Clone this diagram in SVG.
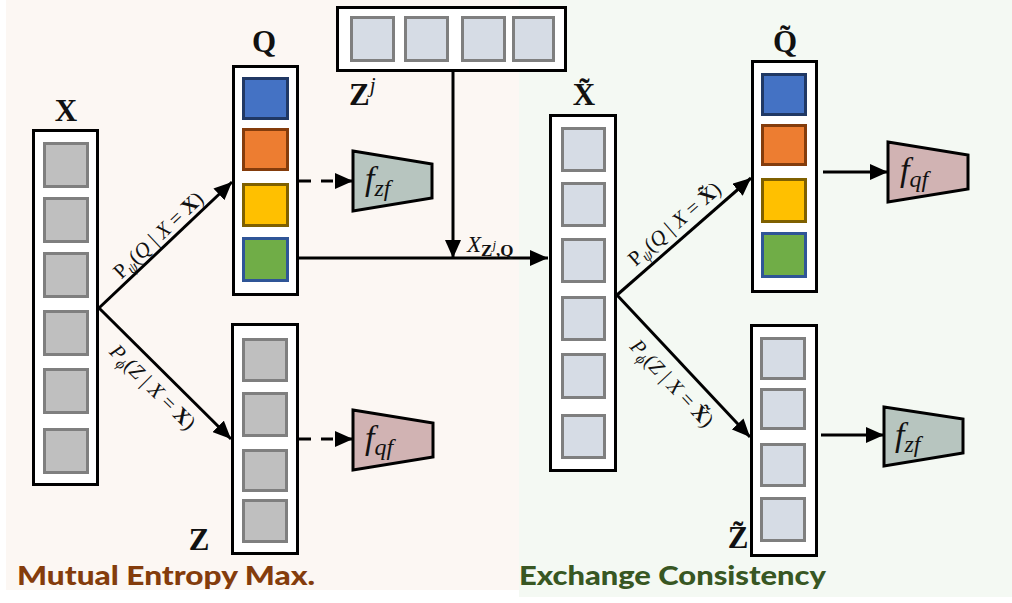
<svg xmlns="http://www.w3.org/2000/svg" width="1012" height="603" viewBox="0 0 1012 603">
  <defs>
    <marker id="head" markerUnits="userSpaceOnUse" markerWidth="18" markerHeight="16" refX="18" refY="8" orient="auto">
      <path d="M0,0 L18,8 L0,16 z" fill="#000"/>
    </marker>
    <style>
      .box { fill: #ffffff; stroke: #000; stroke-width: 3; }
      .gray { fill: #bfbfbf; stroke: #7f7f7f; stroke-width: 3; }
      .light { fill: #d6dce5; stroke: #7f7f7f; stroke-width: 3; }
      .blue { fill: #4472c4; stroke: #203864; stroke-width: 3; }
      .orange { fill: #ed7d31; stroke: #843c0c; stroke-width: 3; }
      .yellow { fill: #ffc000; stroke: #7f6000; stroke-width: 3; }
      .green { fill: #70ad47; stroke: #2f5597; stroke-width: 3; }
      .fz { fill: #b7c5bf; stroke: #000; stroke-width: 3; }
      .fq { fill: #d1b3b3; stroke: #000; stroke-width: 3; }
      .edge { fill: none; stroke: #000; stroke-width: 3; marker-end: url(#head); }
      .dash { stroke-dasharray: 12 10; }
      .name { font-family: "Liberation Serif", "DejaVu Serif", serif; font-weight: bold; font-size: 31px; text-anchor: middle; fill: #111; }
      .fn { font-family: "Liberation Serif", "DejaVu Serif", serif; font-style: italic; fill: #111; }
      .prob { font-family: "Liberation Serif", "DejaVu Serif", serif; font-size: 21px; text-anchor: middle; fill: #111; }
      .title { font-family: Lato, "Open Sans", "Liberation Sans", sans-serif; font-weight: 900; font-size: 27px; }
    </style>
  </defs>

  <!-- two shaded stages -->
  <rect x="6" y="0" width="513" height="590" fill="#fcf7f3"/>
  <rect x="519" y="0" width="493" height="597" fill="#f4f9f3"/>

  <!-- connectors -->
  <g id="connectors">
    <line class="edge" x1="99" y1="308" x2="232" y2="182"/>
    <line class="edge" x1="99" y1="308" x2="231" y2="439"/>
    <line class="edge dash" x1="299" y1="181" x2="353" y2="181"/>
    <line class="edge dash" x1="299" y1="439" x2="353" y2="439"/>
    <line class="edge" x1="453" y1="72" x2="453" y2="258"/>
    <line class="edge" x1="299" y1="258" x2="548" y2="258"/>
    <line class="edge" x1="617" y1="295" x2="751" y2="178"/>
    <line class="edge" x1="617" y1="295" x2="750" y2="437"/>
    <line class="edge" x1="823" y1="172" x2="888" y2="172"/>
    <line class="edge" x1="821" y1="435" x2="884" y2="435"/>

    <text class="prob" transform="translate(163,240) rotate(-43.5)">P<tspan font-style="italic" font-size="15" dy="4">ψ</tspan><tspan dy="-4">(</tspan><tspan font-style="italic">Q</tspan> | <tspan font-style="italic">X</tspan> = <tspan font-weight="bold">X</tspan>)</text>
    <text class="prob" transform="translate(148,392) rotate(44.8)"><tspan font-style="italic">P</tspan><tspan font-style="italic" font-size="15" dy="4">ϕ</tspan><tspan dy="-4">(</tspan><tspan font-style="italic">Z</tspan> | <tspan font-style="italic">X</tspan> = <tspan font-weight="bold">X</tspan>)</text>
    <text class="prob" transform="translate(679,229) rotate(-41.1)">P<tspan font-style="italic" font-size="15" dy="4">ψ</tspan><tspan dy="-4">(</tspan><tspan font-style="italic">Q</tspan> | <tspan font-style="italic">X</tspan> = <tspan font-weight="bold">X̃</tspan>)</text>
    <text class="prob" transform="translate(667,388) rotate(46.9)"><tspan font-style="italic">P</tspan><tspan font-style="italic" font-size="15" dy="4">ϕ</tspan><tspan dy="-4">(</tspan><tspan font-style="italic">Z</tspan> | <tspan font-style="italic">X</tspan> = <tspan font-weight="bold">X̃</tspan>)</text>

    <text x="467" y="252" font-family="Liberation Serif, serif" fill="#111"><tspan font-style="italic" font-size="23">X</tspan><tspan font-weight="bold" font-size="17" dy="4">Z</tspan><tspan font-style="italic" font-size="13" dy="-7">j</tspan><tspan font-weight="bold" font-size="17" dy="7">,Q</tspan></text>
  </g>

  <!-- X : input sequence -->
  <g id="node-X">
    <text class="name" x="66" y="121">X</text>
    <rect class="box" x="33.5" y="130.5" width="64" height="354"/>
    <rect class="gray" x="44.5" y="143.5" width="43" height="43"/>
    <rect class="gray" x="44.5" y="198.5" width="43" height="43"/>
    <rect class="gray" x="44.5" y="253.5" width="43" height="43"/>
    <rect class="gray" x="44.5" y="311.5" width="43" height="43"/>
    <rect class="gray" x="44.5" y="369.5" width="43" height="43"/>
    <rect class="gray" x="44.5" y="429.5" width="43" height="43"/>
  </g>

  <!-- Q : quantised codes -->
  <g id="node-Q">
    <text class="name" x="264" y="52">Q</text>
    <rect class="box" x="233.5" y="66.5" width="64" height="228"/>
    <rect class="blue" x="243.5" y="78.5" width="44" height="40"/>
    <rect class="orange" x="243.5" y="129.5" width="44" height="40"/>
    <rect class="yellow" x="243.5" y="184.5" width="44" height="41"/>
    <rect class="green" x="243.5" y="238.5" width="44" height="42"/>
  </g>

  <!-- Z : latent features -->
  <g id="node-Z">
    <text class="name" x="199" y="550">Z</text>
    <rect class="box" x="232.5" y="324.5" width="65" height="229"/>
    <rect class="gray" x="243.5" y="339.5" width="43" height="41"/>
    <rect class="gray" x="243.5" y="393.5" width="43" height="42"/>
    <rect class="gray" x="243.5" y="450.5" width="43" height="40"/>
    <rect class="gray" x="243.5" y="500.5" width="43" height="41"/>
  </g>

  <!-- f_zf (left) -->
  <g id="node-fzf-left">
    <polygon class="fz" points="353,151 432,164 432,198 353,211"/>
    <text class="fn" x="365" y="190" font-size="34">f<tspan font-size="24" dy="6">zf</tspan></text>
  </g>

  <!-- f_qf (left) -->
  <g id="node-fqf-left">
    <polygon class="fq" points="353,410 433,423 433,457 353,470"/>
    <text class="fn" x="365" y="449" font-size="34">f<tspan font-size="24" dy="6">qf</tspan></text>
  </g>

  <!-- Z^j : exchanged latent -->
  <g id="node-Zj">
    <rect class="box" x="337.5" y="7.5" width="228" height="63"/>
    <rect class="light" x="351.5" y="17.5" width="42" height="43"/>
    <rect class="light" x="405.5" y="17.5" width="42" height="43"/>
    <rect class="light" x="462.5" y="17.5" width="42" height="43"/>
    <rect class="light" x="513.5" y="17.5" width="40" height="43"/>
    <text class="name" x="349" y="105" style="text-anchor:start">Z<tspan font-family="Liberation Serif, serif" font-weight="normal" font-style="italic" font-size="21" dy="-13">j</tspan></text>
  </g>

  <!-- X~ : reconstructed input -->
  <g id="node-Xt">
    <text class="name" x="584" y="105">X̃</text>
    <rect class="box" x="550.5" y="115.5" width="65" height="355"/>
    <rect class="light" x="562.5" y="128.5" width="42" height="42"/>
    <rect class="light" x="562.5" y="183.5" width="42" height="42"/>
    <rect class="light" x="562.5" y="239.5" width="42" height="42"/>
    <rect class="light" x="562.5" y="297.5" width="42" height="42"/>
    <rect class="light" x="562.5" y="354.5" width="42" height="43"/>
    <rect class="light" x="562.5" y="415.5" width="42" height="42"/>
  </g>

  <!-- Q~ -->
  <g id="node-Qt">
    <text class="name" x="785" y="52">Q̃</text>
    <rect class="box" x="752.5" y="61.5" width="64" height="230"/>
    <rect class="blue" x="762.5" y="74.5" width="43" height="40"/>
    <rect class="orange" x="762.5" y="125.5" width="43" height="39"/>
    <rect class="yellow" x="762.5" y="179.5" width="43" height="42"/>
    <rect class="green" x="762.5" y="233.5" width="43" height="43"/>
  </g>

  <!-- Z~ -->
  <g id="node-Zt">
    <text class="name" x="738" y="548">Z̃</text>
    <rect class="box" x="751.5" y="325.5" width="65" height="230"/>
    <rect class="light" x="761.5" y="338.5" width="43" height="40"/>
    <rect class="light" x="761.5" y="389.5" width="43" height="39"/>
    <rect class="light" x="761.5" y="444.5" width="43" height="41"/>
    <rect class="light" x="761.5" y="498.5" width="43" height="42"/>
  </g>

  <!-- f_qf (right) -->
  <g id="node-fqf-right">
    <polygon class="fq" points="888,142 968,155 968,189 888,202"/>
    <text class="fn" x="900" y="181" font-size="34">f<tspan font-size="24" dy="6">qf</tspan></text>
  </g>

  <!-- f_zf (right) -->
  <g id="node-fzf-right">
    <polygon class="fz" points="884,407 963,419 963,453 884,466"/>
    <text class="fn" x="895" y="446" font-size="34">f<tspan font-size="24" dy="6">zf</tspan></text>
  </g>

  <!-- stage captions -->
  <text class="title" x="17" y="585" fill="#843c0c" textLength="298" lengthAdjust="spacingAndGlyphs">Mutual Entropy Max.</text>
  <text class="title" x="519" y="585" fill="#385723" textLength="307" lengthAdjust="spacingAndGlyphs">Exchange Consistency</text>
</svg>
